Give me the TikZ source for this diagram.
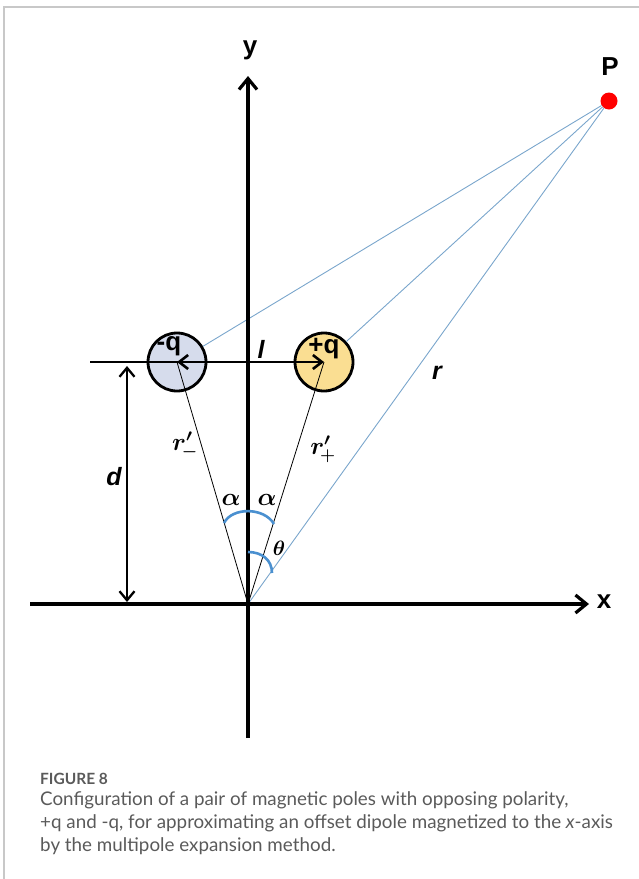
\documentclass[tikz,border=0pt]{standalone}
\usepackage{fontspec}
\usepackage{bm}
\setmainfont{Liberation Sans}
\newfontfamily\capfont{Lato}
\usetikzlibrary{arrows.meta}
\definecolor{qminus}{HTML}{D6DCEC}
\definecolor{qplus}{HTML}{FADE92}
\definecolor{rayblue}{HTML}{7AA6CC}
\definecolor{arcblue}{HTML}{4A90D0}
\definecolor{capgray}{HTML}{5A5A5A}
\definecolor{framegray}{HTML}{C8C8C8}
\begin{document}
\begin{tikzpicture}[x=1pt,y=1pt,
  axisline/.style={line width=3.2pt,-{Straight Barb[length=11pt,width=18pt,line width=3.2pt]}},
  dimline/.style={line width=2.3pt,{Straight Barb[length=9pt,width=15pt,line width=2.3pt]}-{Straight Barb[length=9pt,width=15pt,line width=2.3pt]}},
  halfline/.style={line width=2.6pt,-{Straight Barb[length=9pt,width=14pt,line width=2.6pt]}},
  plainline/.style={line width=2.6pt},
  thinline/.style={line width=0.8pt,black},
  ray/.style={line width=0.9pt,rayblue},
  anglearc/.style={line width=2.6pt,arcblue},
  pole/.style={circle,draw=black,line width=2.8pt,minimum size=58pt,inner sep=0pt},
  pdot/.style={circle,fill=red,minimum size=17pt,inner sep=0pt},
  lab/.style={font=\fontsize{26}{26}\selectfont\bfseries,inner sep=0pt},
  ilab/.style={font=\fontsize{25}{25}\selectfont\bfseries\itshape,inner sep=0pt},
  glab/.style={font=\fontsize{24}{24}\selectfont,inner sep=0pt},
  captext/.style={anchor=base west,inner sep=0pt,text=capgray,font=\capfont\fontsize{18.8}{22}\selectfont},
  frameline/.style={line width=1.5pt,framegray}]
\useasboundingbox (0,0) rectangle (639,-879);
\draw[frameline] (4,-879) -- (4,-7) -- (639,-7);

% key points
\coordinate (O) at (248,-604);
\coordinate (yb) at (248,-738);
\coordinate (yt) at (248,-76);
\coordinate (xl) at (30,-604);
\coordinate (xr) at (589,-604);
\coordinate (hl) at (90,-362);
\coordinate (hy) at (248,-362);
\coordinate (dt) at (127,-366);
\coordinate (db) at (127,-602);

% poles and point P
\node[pole,fill=qminus] (qm) at (177,-362) {};
\node[pole,fill=qplus] (qp) at (324,-362) {};
\node[pdot] (P) at (609,-101) {};

% rays from P
\draw[ray] (P) -- (qm);
\draw[ray] (P) -- (qp);
\draw[ray] (P) -- (O);

% axes
\draw[axisline] (xl) -- (xr);
\draw[axisline] (yb) -- (yt);

% dipole line
\draw[plainline] (hl) -- (hy);
\draw[halfline] (hy) -- (qm.center);
\draw[halfline] (hy) -- (qp.center);
\draw[dimline] (dt) -- (db);

% r' lines
\draw[thinline] (O) -- (qm.center);
\draw[thinline] (O) -- (qp.center);

% angle arcs
\draw[anglearc] (224,-523) .. controls (232,-507) and (264,-507) .. (274,-524);
\draw[anglearc] (248,-552) .. controls (262,-552) and (272,-560) .. (272,-573);

% labels
\node[lab] (ylab) at (250,-50) {y};
\node[lab] (xlab) at (604,-602) {x};
\node[lab] (plab) at (610,-67) {P};
\node[lab] (qmlab) at (169,-346) {-q};
\node[lab] (qplab) at (324,-349) {+q};
\node[ilab] (llab) at (261,-349) {l};
\node[ilab] (dlab) at (114,-477) {d};
\node[ilab] (rlab) at (437,-373) {r};
\node[glab] (rmlab) at (185,-445) {$\bm{r'_{\!-}}$};
\node[glab] (rplab) at (323,-449) {$\bm{r'_{\!+}}$};
\node[glab] (a1) at (231,-500) {$\bm{\alpha}$};
\node[glab] (a2) at (267,-500) {$\bm{\alpha}$};
\node[glab,font=\fontsize{21}{21}\selectfont] (th) at (279,-548) {$\bm{\theta}$};

% caption
\node[captext,font=\capfont\fontsize{15.5}{20}\selectfont\bfseries] (fig) at (40,-784) {FIGURE 8};
\node[captext] (c1) at (40,-805) {Configuration of a pair of magnetic poles with opposing polarity,};
\node[captext] (c2) at (40,-828) {+q and -q, for approximating an offset dipole magnetized to the \textit{x}-axis};
\node[captext] (c3) at (40,-851) {by the multipole expansion method.};
\end{tikzpicture}
\end{document}
